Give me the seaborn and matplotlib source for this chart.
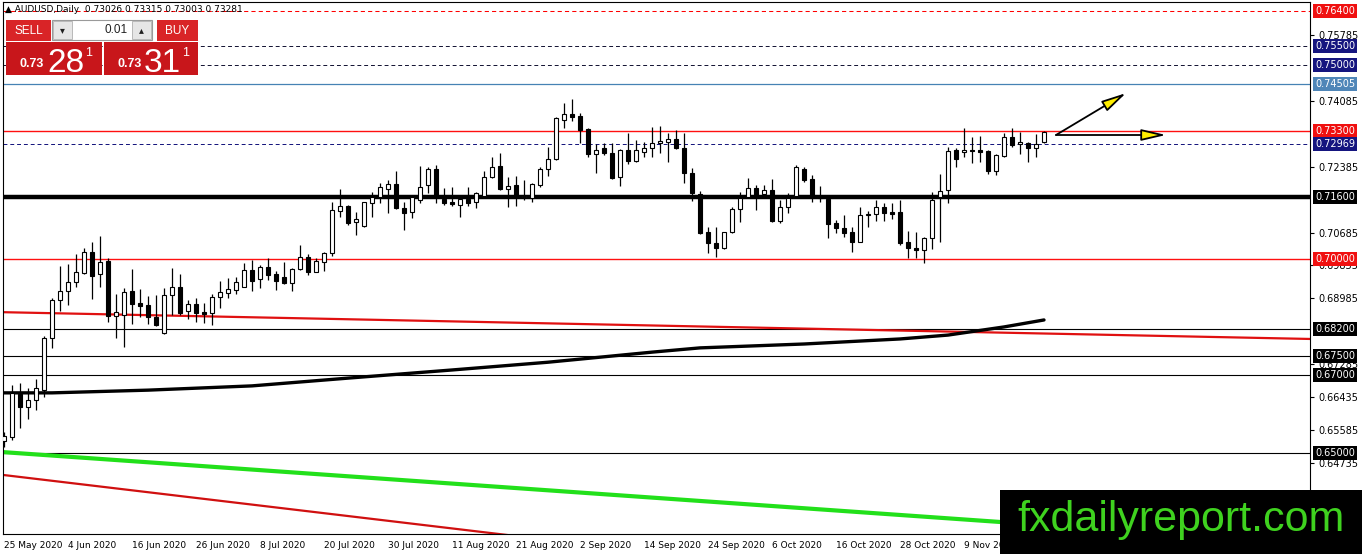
import numpy as np
import pandas as pd
import seaborn as sns
import matplotlib
matplotlib.use("Agg")
import matplotlib.pyplot as plt
import matplotlib.patches as patches
import matplotlib.transforms as mtransforms

# daily AUDUSD candles, 25 May 2020 .. 23 Nov 2020 (weekdays)
opens = [
    0.6531, 0.6541, 0.6652, 0.6618, 0.6636, 0.6662, 0.6796, 0.6894, 0.6918, 0.6941,
    0.6964, 0.7018, 0.6962, 0.6995, 0.6853, 0.6856, 0.6918, 0.6887, 0.6882, 0.6851,
    0.6809, 0.6907, 0.6928, 0.6866, 0.6884, 0.6863, 0.6861, 0.6902, 0.6912, 0.6920,
    0.6928, 0.6972, 0.6949, 0.6980, 0.6962, 0.6954, 0.6938, 0.6974, 0.7005, 0.6967,
    0.6992, 0.7016, 0.7124, 0.7137, 0.7096, 0.7085, 0.7145, 0.7160, 0.7181, 0.7194,
    0.7132, 0.7122, 0.7152, 0.7191, 0.7232, 0.7155, 0.7147, 0.7139, 0.7155, 0.7147,
    0.7163, 0.7212, 0.7240, 0.7181, 0.7191, 0.7160, 0.7157, 0.7191, 0.7232, 0.7258,
    0.7359, 0.7374, 0.7369, 0.7336, 0.7271, 0.7286, 0.7274, 0.7212, 0.7281, 0.7253,
    0.7276, 0.7286, 0.7299, 0.7302, 0.7310, 0.7286, 0.7222, 0.7168, 0.7070, 0.7041,
    0.7028, 0.7070, 0.7129, 0.7160, 0.7183, 0.7168, 0.7178, 0.7098, 0.7134, 0.7163,
    0.7232, 0.7207, 0.7160, 0.7155, 0.7093, 0.7080, 0.7070, 0.7044, 0.7114, 0.7116,
    0.7134, 0.7122, 0.7122, 0.7044, 0.7028, 0.7023, 0.7054, 0.7160, 0.7178, 0.7281,
    0.7276, 0.7281, 0.7281, 0.7279, 0.7227, 0.7266, 0.7315, 0.7297, 0.7299, 0.7286,
    0.73026,
]
highs = [
    0.6554, 0.6675, 0.6680, 0.6667, 0.6691, 0.6801, 0.6900, 0.6982, 0.6987, 0.7013,
    0.7029, 0.7044, 0.7060, 0.7003, 0.6910, 0.6925, 0.6974, 0.6923, 0.6905, 0.6907,
    0.6925, 0.6977, 0.6962, 0.6894, 0.6900, 0.6887, 0.6910, 0.6943, 0.6951, 0.6954,
    0.6990, 0.6998, 0.6985, 0.7003, 0.6969, 0.6992, 0.6977, 0.7036, 0.7013, 0.7003,
    0.7017, 0.7147, 0.7181, 0.7139, 0.7121, 0.7148, 0.7173, 0.7196, 0.7204, 0.7227,
    0.7147, 0.7165, 0.7240, 0.7237, 0.7242, 0.7183, 0.7186, 0.7160, 0.7186, 0.7173,
    0.7227, 0.7263, 0.7274, 0.7212, 0.7214, 0.7204, 0.7196, 0.7237, 0.7289, 0.7367,
    0.7403, 0.7413, 0.7377, 0.7338, 0.7297, 0.7299, 0.7299, 0.7284, 0.7325, 0.7307,
    0.7302, 0.7341, 0.7343, 0.7325, 0.7333, 0.7325, 0.7235, 0.7176, 0.7083, 0.7083,
    0.7070, 0.7134, 0.7173, 0.7209, 0.7191, 0.7191, 0.7207, 0.7152, 0.7170, 0.7242,
    0.7237, 0.7217, 0.7189, 0.7160, 0.7101, 0.7114, 0.7083, 0.7134, 0.7124, 0.7152,
    0.7145, 0.7145, 0.7152, 0.7072, 0.7070, 0.7057, 0.7173, 0.7219, 0.7289, 0.7286,
    0.7338, 0.7315, 0.7317, 0.7281, 0.7271, 0.7325, 0.7338, 0.7328, 0.7302, 0.7323,
    0.73315,
]
lows = [
    0.6515, 0.6533, 0.6564, 0.6587, 0.6611, 0.6644, 0.6771, 0.6866, 0.6882, 0.6928,
    0.6962, 0.6897, 0.6928, 0.6838, 0.6796, 0.6773, 0.6833, 0.6851, 0.6833, 0.6827,
    0.6808, 0.6856, 0.6856, 0.6846, 0.6838, 0.6835, 0.6830, 0.6874, 0.6900, 0.6910,
    0.6927, 0.6918, 0.6925, 0.6946, 0.6920, 0.6937, 0.6918, 0.6972, 0.6959, 0.6966,
    0.6969, 0.7008, 0.7109, 0.7088, 0.7062, 0.7084, 0.7109, 0.7145, 0.7119, 0.7129,
    0.7075, 0.7106, 0.7145, 0.7170, 0.7145, 0.7139, 0.7137, 0.7109, 0.7137, 0.7132,
    0.7160, 0.7209, 0.7178, 0.7134, 0.7137, 0.7152, 0.7147, 0.7186, 0.7214, 0.7256,
    0.7338, 0.7356, 0.7299, 0.7263, 0.7222, 0.7268, 0.7207, 0.7189, 0.7245, 0.7250,
    0.7263, 0.7263, 0.7274, 0.7250, 0.7284, 0.7196, 0.7150, 0.7065, 0.7016, 0.7005,
    0.7026, 0.7067, 0.7096, 0.7159, 0.7127, 0.7159, 0.7096, 0.7093, 0.7119, 0.7160,
    0.7199, 0.7147, 0.7147, 0.7054, 0.7067, 0.7057, 0.7018, 0.7043, 0.7083, 0.7098,
    0.7098, 0.7103, 0.7036, 0.7003, 0.7003, 0.6990, 0.7026, 0.7044, 0.7145, 0.7237,
    0.7263, 0.7248, 0.7250, 0.7219, 0.7217, 0.7263, 0.7289, 0.7271, 0.7250, 0.7263,
    0.73003,
]
closes = [
    0.6544, 0.6654, 0.6618, 0.6636, 0.6667, 0.6796, 0.6894, 0.6918, 0.6941, 0.6967,
    0.7018, 0.6956, 0.6992, 0.6853, 0.6863, 0.6915, 0.6884, 0.6879, 0.6851, 0.6830,
    0.6907, 0.6928, 0.6861, 0.6884, 0.6861, 0.6858, 0.6902, 0.6915, 0.6923, 0.6941,
    0.6972, 0.6943, 0.6980, 0.6959, 0.6943, 0.6938, 0.6974, 0.7005, 0.6967, 0.6995,
    0.7016, 0.7127, 0.7137, 0.7093, 0.7104, 0.7147, 0.7160, 0.7186, 0.7194, 0.7132,
    0.7119, 0.7160, 0.7186, 0.7232, 0.7163, 0.7145, 0.7142, 0.7155, 0.7145, 0.7170,
    0.7212, 0.7237, 0.7181, 0.7189, 0.7160, 0.7163, 0.7194, 0.7232, 0.7258, 0.7364,
    0.7374, 0.7367, 0.7333, 0.7271, 0.7281, 0.7274, 0.7209, 0.7281, 0.7253, 0.7281,
    0.7286, 0.7299, 0.7305, 0.7310, 0.7286, 0.7222, 0.7170, 0.7067, 0.7041, 0.7028,
    0.7070, 0.7129, 0.7157, 0.7183, 0.7160, 0.7178, 0.7098, 0.7134, 0.7157, 0.7237,
    0.7204, 0.7160, 0.7157, 0.7090, 0.7080, 0.7067, 0.7044, 0.7114, 0.7116, 0.7134,
    0.7119, 0.7116, 0.7041, 0.7028, 0.7023, 0.7054, 0.7152, 0.7176, 0.7279, 0.7258,
    0.7281, 0.7280, 0.7276, 0.7227, 0.7268, 0.7315, 0.7294, 0.7302, 0.7286, 0.7297,
    0.73281,
]

# long moving average (read at a few bars)
ma_bars = [0, 6, 18, 31, 43, 56, 68, 81, 87, 100, 112, 118, 125, 130]
ma_values = [0.6655, 0.6655, 0.6662, 0.6673, 0.6693, 0.6714, 0.6734, 0.6760,
             0.6771, 0.6781, 0.6794, 0.6804, 0.6825, 0.6843]

# trend lines (start / end)
red_trend_bars = [0, 163.25]
red_trend_prices = [0.6863, 0.6794]
green_trend_bars = [0, 163.25]
green_trend_prices = [0.6502, 0.6266]
low_red_bars = [0, 70]
low_red_prices = [0.6443, 0.6271]

# horizontal levels
levels = [0.7640, 0.7550, 0.7500, 0.74505, 0.7330, 0.72969, 0.7160, 0.7000,
          0.6820, 0.6750, 0.6700, 0.6500]
level_labels = ["0.76400", "0.75500", "0.75000", "0.74505", "0.73300", "0.72969",
                "0.71600", "0.70000", "0.68200", "0.67500", "0.67000", "0.65000"]

# scale ticks that are not covered by the level boxes
ytick_values = [0.75785, 0.74085, 0.72385, 0.70685, 0.69835, 0.68985, 0.67285,
                0.66435, 0.65585, 0.64735]
xtick_bars = [0, 8, 16, 24, 32, 40, 48, 56, 64, 72, 80, 88, 96, 104, 112, 120, 128]
xtick_labels = ["25 May 2020", "4 Jun 2020", "16 Jun 2020", "26 Jun 2020", "8 Jul 2020",
                "20 Jul 2020", "30 Jul 2020", "11 Aug 2020", "21 Aug 2020", "2 Sep 2020",
                "14 Sep 2020", "24 Sep 2020", "6 Oct 2020", "16 Oct 2020", "28 Oct 2020",
                "9 Nov 2020", "19 Nov 2020"]

# arrows: start, up target, flat target
arrow_start = (131.5, 0.7320)
arrow_up = (140.25, 0.7428)
arrow_flat = (145.25, 0.7320)

sns.set_style("white")
plt.rcParams["font.family"] = ["DejaVu Sans"]

W, H = 1362, 554
fig = plt.figure(figsize=(W / 100, H / 100), dpi=100)
fig.patch.set_facecolor("white")
ax = fig.add_axes([3 / W, 1 - 534 / H, (1310 - 3) / W, (534 - 2) / H])
ax.set_facecolor("white")
for s in ax.spines.values():
    s.set_color("black")
    s.set_linewidth(0.8)


def fx(x):
    return x / W


def fy(y):
    return 1 - y / H


# horizontal levels
line_colors = ["#ff0000", "#101030", "#101030", "#4682b4", "#ff1010", "#10107a",
               "black", "#ff1010", "black", "black", "black", "black"]
line_styles = [(0, (4, 3)), (0, (4, 3)), (0, (4, 3)), "-", "-", (0, (4, 3)),
               "-", "-", "-", "-", "-", "-"]
line_widths = [0.75, 0.7, 0.7, 0.9, 1.0, 0.7, 3.2, 1.0, 0.8, 0.8, 0.8, 0.8]
for lv, col, ls, lw in zip(levels, line_colors, line_styles, line_widths):
    ax.axhline(lv, color=col, linestyle=ls, linewidth=lw, zorder=1)

# trend lines
ax.plot(green_trend_bars, green_trend_prices, color="#22e01a", linewidth=3.0, zorder=2)
ax.plot(low_red_bars, low_red_prices, color="#d01010", linewidth=1.6, zorder=2)
ax.plot(red_trend_bars, red_trend_prices, color="#e01010", linewidth=1.6, zorder=2)

# moving average
ma_df = pd.DataFrame({"bar": ma_bars, "ma": ma_values})
sns.lineplot(data=ma_df, x="bar", y="ma", color="black", linewidth=2.4, ax=ax, zorder=3)

# candles
o = np.array(opens)
h = np.array(highs)
l = np.array(lows)
c = np.array(closes)
idx = np.arange(len(o))
lo = np.minimum(l, np.minimum(o, c))
hi = np.maximum(h, np.maximum(o, c))
ax.vlines(idx, lo, hi, color="black", linewidth=0.9, zorder=4)
body_h = np.maximum(np.abs(c - o), 0.00012)
body_b = np.minimum(o, c)
up = c >= o
ax.bar(idx[up], body_h[up], bottom=body_b[up], width=0.62, color="white",
       edgecolor="black", linewidth=0.8, zorder=5)
ax.bar(idx[~up], body_h[~up], bottom=body_b[~up], width=0.62, color="black",
       edgecolor="black", linewidth=0.8, zorder=5)

# arrows
for tip in (arrow_up, arrow_flat):
    ax.annotate("", xy=tip, xytext=arrow_start,
                arrowprops=dict(arrowstyle="-|>,head_length=1.5,head_width=0.35",
                                fc="#ffee00", ec="black", lw=1.3,
                                shrinkA=0, shrinkB=0),
                zorder=6)

ax.set_xlim(-0.125, 163.25)
ax.set_ylim(0.6291, 0.7663)
ax.set_xlabel("")
ax.set_ylabel("")

ax.yaxis.tick_right()
ax.set_yticks(ytick_values)
ax.set_yticklabels([f"{v:.5f}" for v in ytick_values])
ax.tick_params(axis="y", direction="out", length=3, width=0.8, labelsize=7, pad=3,
               colors="black")
ax.set_xticks(xtick_bars)
ax.set_xticklabels(xtick_labels)
ax.tick_params(axis="x", direction="out", length=3, width=0.8, labelsize=6.5, pad=2,
               colors="black")
for lab in ax.get_xticklabels():
    lab.set_ha("left")

# price labels on the right scale
label_bg = ["#f01010", "#15157f", "#15157f", "#4f86b8", "#f01010", "#15157f",
            "black", "#f01010", "black", "black", "black", "black"]
blend = mtransforms.blended_transform_factory(fig.transFigure, ax.transData)
for lv, txt, bg in zip(levels, level_labels, label_bg):
    ax.text(fx(1315), lv, txt, transform=blend, fontsize=7, color="white",
            va="center", ha="left", zorder=10, clip_on=False,
            bbox=dict(boxstyle="square,pad=0.2", fc=bg, ec="none"))

# title
fig.text(fx(5), fy(10), "\u25b2 AUDUSD,Daily  0.73026 0.73315 0.73003 0.73281",
         fontsize=6.5, color="black", va="center", ha="left")


# one-click trading panel
def rect(x0, y0, x1, y1, fc, ec="none", lw=0.0):
    r = patches.Rectangle((fx(x0), fy(y1)), (x1 - x0) / W, (y1 - y0) / H,
                          transform=fig.transFigure, fc=fc, ec=ec, lw=lw, zorder=20)
    fig.add_artist(r)


panel_font = ["Liberation Sans", "DejaVu Sans"]
rect(6, 20, 51, 41, "#d92427")
rect(157, 20, 198, 41, "#d92427")
rect(52, 20, 152, 40, "white", ec="#9a9a9a", lw=0.8)
rect(53, 21, 72, 39, "#e6e6e6", ec="#b0b0b0", lw=0.6)
rect(132, 21, 151, 39, "#e6e6e6", ec="#b0b0b0", lw=0.6)
rect(6, 42, 102, 75, "#c8161b")
rect(104, 42, 198, 75, "#c8161b")
fig.text(fx(28.5), fy(31), "SELL", fontsize=8.5, color="white", ha="center", va="center",
         family=panel_font, zorder=21)
fig.text(fx(177.5), fy(31), "BUY", fontsize=8.5, color="white", ha="center", va="center",
         family=panel_font, zorder=21)
fig.text(fx(62.5), fy(30), "\u25be", fontsize=7, color="#202020", ha="center", va="center",
         zorder=21)
fig.text(fx(141.5), fy(30), "\u25b4", fontsize=7, color="#202020", ha="center", va="center",
         zorder=21)
fig.text(fx(128), fy(30), "0.01", fontsize=8.5, color="#202020", ha="right", va="center",
         family=panel_font, zorder=21)
for x_small, x_big, x_sup, big in ((20, 47, 85, "28"), (118, 144, 182, "31")):
    fig.text(fx(x_small), fy(67), "0.73", fontsize=9, color="white", weight="bold",
             ha="left", va="baseline", family=panel_font, zorder=21)
    fig.text(fx(x_big), fy(72), big, fontsize=24, color="white", ha="left",
             va="baseline", family=panel_font, zorder=21)
    fig.text(fx(x_sup), fy(56), "1", fontsize=9, color="white", ha="left",
             va="baseline", family=panel_font, zorder=21)

# watermark
rect(1000, 490, 1362, 554, "black")
fig.text(fx(1181), fy(520), "fxdailyreport.com", fontsize=31, color="#3fd21f",
         ha="center", va="center", family=["Liberation Sans Narrow", "Liberation Sans"],
         zorder=22)

fig.savefig("out.png", dpi=100, facecolor="white")
